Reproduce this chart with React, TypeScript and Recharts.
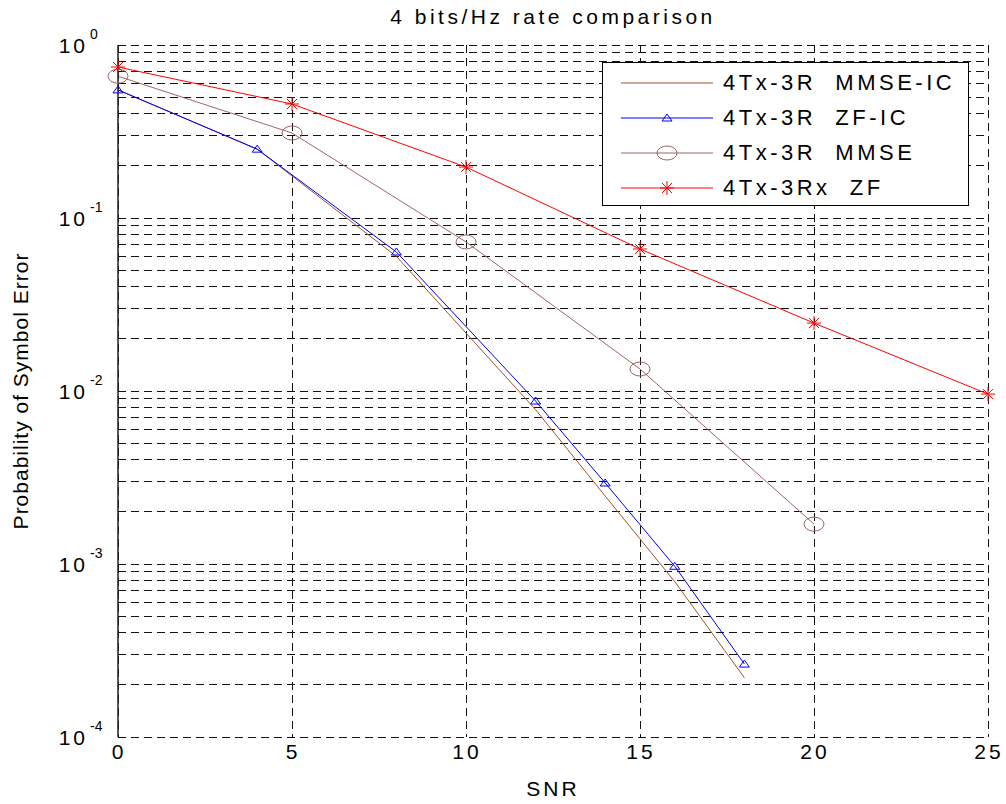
import React from 'react';
import { LineChart, Line, XAxis, YAxis, CartesianGrid, Legend, Label } from 'recharts';

const FONT = '"Liberation Sans", Arial, Helvetica, sans-serif';

// ---- data ----
const snrIC = [0, 4, 8, 12, 14, 16, 18];
const mmseIC = [0.55, 0.25, 0.06, 0.0078, 0.00247, 0.00079, 0.00022];
const zfIC = [0.55, 0.25, 0.0636, 0.00875, 0.00294, 0.00097, 0.000264];
const snrMMSE = [0, 5, 10, 15, 20];
const mmse = [0.66, 0.31, 0.0727, 0.0134, 0.0017];
const snrZF = [0, 5, 10, 15, 20, 25];
const zf = [0.746, 0.456, 0.197, 0.0662, 0.0247, 0.0096];

const xTicks = [0, 5, 10, 15, 20, 25];
const decadeExps = [-4, -3, -2, -1, 0];
const mantissas = [1, 2, 3, 4, 5, 6, 7, 8, 9];

const seriesNames = ['4Tx-3R  MMSE-IC', '4Tx-3R  ZF-IC', '4Tx-3R  MMSE', '4Tx-3Rx  ZF'];
const seriesColors = ['#a0522d', '#0000ff', '#a06464', '#ff0000'];

const yTicks: number[] = [];
decadeExps.forEach((e) => {
  if (e === 0) {
    yTicks.push(1);
  } else {
    mantissas.forEach((m) => yTicks.push(Number((m * Math.pow(10, e)).toPrecision(3))));
  }
});

const toRows = (xs: number[], ys: number[]) => xs.map((x, i) => ({ snr: x, pe: ys[i] }));
const dataMMSEIC = toRows(snrIC, mmseIC);
const dataZFIC = toRows(snrIC, zfIC);
const dataMMSE = toRows(snrMMSE, mmse);
const dataZF = toRows(snrZF, zf);

// ---- markers ----
const Tri = ({ cx, cy, color }: any) => (
  <polygon points={`${cx},${cy - 4} ${cx - 5},${cy + 3} ${cx + 5},${cy + 3}`} fill="none" stroke={color} strokeWidth={1} />
);
const Circ = ({ cx, cy, color }: any) => (
  <ellipse cx={cx} cy={cy} rx={10} ry={7} fill="none" stroke={color} strokeWidth={1} />
);
const Star = ({ cx, cy, color }: any) => (
  <g stroke={color} strokeWidth={1}>
    <line x1={cx - 7} y1={cy} x2={cx + 7} y2={cy} />
    <line x1={cx} y1={cy - 7} x2={cx} y2={cy + 7} />
    <line x1={cx - 5} y1={cy - 5} x2={cx + 5} y2={cy + 5} />
    <line x1={cx - 5} y1={cy + 5} x2={cx + 5} y2={cy - 5} />
  </g>
);

const markerFor = (i: number, cx: number, cy: number) => {
  const c = seriesColors[i];
  if (i === 1) return <Tri cx={cx} cy={cy} color={c} />;
  if (i === 2) return <Circ cx={cx} cy={cy} color={c} />;
  if (i === 3) return <Star cx={cx} cy={cy} color={c} />;
  return null;
};

const makeDot = (i: number) => (props: any) => {
  const { cx, cy, index } = props;
  return <g key={`d${i}-${index}`}>{markerFor(i, cx, cy)}</g>;
};

// ---- ticks ----
const YTick = (props: any) => {
  const { x, y, payload } = props;
  const v = payload.value;
  const e = Math.round(Math.log10(v));
  if (Math.abs(Math.pow(10, e) - v) / v > 1e-6) return <g />;
  return (
    <g>
      <text x={x - 30} y={y + 8} textAnchor="end" fontFamily={FONT} fontSize={21} letterSpacing={3} fill="#000">
        10
      </text>
      <text x={x - 28} y={y - 6} textAnchor="start" fontFamily={FONT} fontSize={14} fill="#000">
        {e}
      </text>
    </g>
  );
};

const XTick = (props: any) => {
  const { x, y, payload } = props;
  return (
    <text x={x + 1} y={y + 22} textAnchor="middle" fontFamily={FONT} fontSize={21} letterSpacing={3} fill="#000">
      {payload.value}
    </text>
  );
};

const LegendBox = () => (
  <div
    style={{
      width: 367,
      height: 144,
      border: '1px solid #000',
      background: '#fff',
      boxSizing: 'border-box',
      position: 'relative',
    }}
  >
    {seriesNames.map((name, i) => (
      <div key={name} style={{ position: 'absolute', left: 0, top: 5 + i * 35, height: 30, width: 367 }}>
        <svg width={120} height={30} style={{ position: 'absolute', left: 0, top: 0 }}>
          <line x1={18} y1={15} x2={110} y2={15} stroke={seriesColors[i]} strokeWidth={1} />
          {markerFor(i, 64, 15)}
        </svg>
        <span
          style={{
            position: 'absolute',
            left: 120,
            top: 2,
            fontFamily: FONT,
            fontSize: 22,
            letterSpacing: 3.5,
            whiteSpace: 'pre',
            color: '#000',
            lineHeight: '26px',
          }}
        >
          {name}
        </span>
      </div>
    ))}
  </div>
);

export default function App() {
  return (
    <div style={{ position: 'absolute', left: 0, top: 0, width: 1006, height: 804, background: '#fff' }}>
      <div
        style={{
          position: 'absolute',
          left: 118,
          width: 870,
          top: 5,
          textAlign: 'center',
          fontFamily: FONT,
          fontSize: 21,
          letterSpacing: 3.5,
          color: '#000',
        }}
      >
        4 bits/Hz rate comparison
      </div>
      <LineChart
        width={1006}
        height={804}
        margin={{ top: 45, right: 18, bottom: 0, left: 0 }}
        style={{ position: 'absolute', left: 0, top: 0 }}
      >
        <CartesianGrid stroke="#111" strokeDasharray="8 5" strokeWidth={1} shapeRendering="crispEdges" />
        <XAxis
          dataKey="snr"
          type="number"
          domain={[0, 25]}
          ticks={xTicks}
          allowDuplicatedCategory={false}
          height={67}
          axisLine={false}
          tickLine={false}
          tickSize={0}
          tickMargin={0}
          tick={<XTick />}
          interval={0}
        >
          <Label
            value="SNR"
            position="insideBottom"
            offset={8}
            style={{ fontFamily: FONT, fontSize: 21, letterSpacing: 3, fill: '#000' }}
          />
        </XAxis>
        <YAxis
          dataKey="pe"
          type="number"
          scale="log"
          domain={[0.0001, 1]}
          allowDataOverflow
          ticks={yTicks}
          interval={0}
          width={118}
          axisLine={{ stroke: '#222', strokeWidth: 1.5 }}
          tickLine={false}
          tickSize={0}
          tickMargin={0}
          tick={<YTick />}
        >
          <Label
            value="Probability of Symbol Error"
            angle={-90}
            position="insideLeft"
            offset={21}
            style={{ fontFamily: FONT, fontSize: 21, letterSpacing: 1, fill: '#000', textAnchor: 'middle' }}
          />
        </YAxis>
        <Legend
          layout="vertical"
          align="center"
          verticalAlign="middle"
          content={() => <LegendBox />}
          wrapperStyle={{ left: 602, top: 62, width: 367, height: 144 }}
        />
        <Line
          data={dataMMSEIC}
          dataKey="pe"
          name={seriesNames[0]}
          stroke={seriesColors[0]}
          strokeWidth={1}
          dot={false}
          activeDot={false}
          isAnimationActive={false}
          type="linear"
        />
        <Line
          data={dataZFIC}
          dataKey="pe"
          name={seriesNames[1]}
          stroke={seriesColors[1]}
          strokeWidth={1}
          dot={makeDot(1)}
          activeDot={false}
          isAnimationActive={false}
          type="linear"
        />
        <Line
          data={dataMMSE}
          dataKey="pe"
          name={seriesNames[2]}
          stroke={seriesColors[2]}
          strokeWidth={1}
          dot={makeDot(2)}
          activeDot={false}
          isAnimationActive={false}
          type="linear"
        />
        <Line
          data={dataZF}
          dataKey="pe"
          name={seriesNames[3]}
          stroke={seriesColors[3]}
          strokeWidth={1}
          dot={makeDot(3)}
          activeDot={false}
          isAnimationActive={false}
          type="linear"
        />
      </LineChart>
    </div>
  );
}
